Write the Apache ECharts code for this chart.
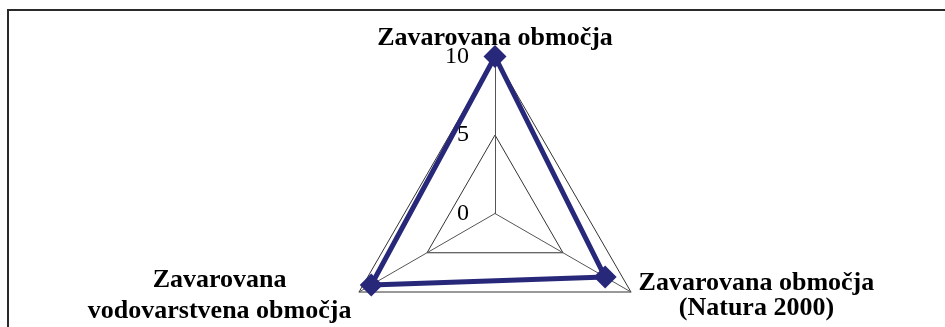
<!DOCTYPE html>
<html>
<head>
<meta charset="utf-8">
<script src="https://cdn.jsdelivr.net/npm/echarts@6/dist/echarts.min.js"></script>
<style>
  html, body { margin: 0; padding: 0; background: #fff; }
  #chart { width: 945px; height: 327px; }
</style>
</head>
<body>
<div id="chart"></div>
<script>
// indicator names (top, bottom-left, bottom-right)
var indicatorNames = [
    'Zavarovana območja',
    'Zavarovana\nvodovarstvena območja',
    'Zavarovana območja\n(Natura 2000)'
];
var indicatorMax = [10, 10, 10];
var seriesValues = [10, 9.1, 8.1];
var nameStyles = ['top', 'left', 'right'];

var chart = echarts.init(document.getElementById('chart'));

var indicators = [];
for (var i = 0; i < indicatorNames.length; i++) {
    var ind = { name: indicatorNames[i], min: 0, max: indicatorMax[i], nameMoveOverlap: false };
    if (i > 0) ind.axisLabel = { show: false };
    indicators.push(ind);
}

var nameFont = { fontFamily: 'Liberation Serif', fontWeight: 'bold', fontSize: 26, color: '#000', align: 'center' };

chart.setOption({
    animation: false,
    graphic: [{
        type: 'rect',
        shape: { x: 8, y: 10, width: 1200, height: 600 },
        style: { fill: null, stroke: '#2a2a2a', lineWidth: 2 },
        silent: true
    }],
    radar: {
        center: [495, 213.5],
        radius: 157,
        startAngle: 90,
        shape: 'polygon',
        splitNumber: 2,
        indicator: indicators,
        nameGap: 3,
        axisName: {
            color: '#000',
            fontFamily: 'Liberation Serif',
            fontWeight: 'bold',
            fontSize: 26,
            formatter: function (value) {
                var idx = indicatorNames.indexOf(value);
                return value.split('\n').map(function (line) {
                    return '{' + nameStyles[idx] + '|' + line + '}';
                }).join('\n');
            },
            rich: {
                top: Object.assign({ lineHeight: 26, padding: [0, 0, 4, 0] }, nameFont),
                left: Object.assign({ lineHeight: 31, padding: [4, 5, 0, 0] }, nameFont),
                right: Object.assign({ lineHeight: 25, padding: [4, 0, 0, 5] }, nameFont)
            }
        },
        axisLine: { lineStyle: { color: '#555', width: 1 } },
        splitLine: { lineStyle: { color: '#333', width: 1 } },
        splitArea: { show: false },
        axisTick: { show: false },
        axisLabel: {
            show: true,
            color: '#000',
            fontFamily: 'Liberation Serif',
            fontSize: 24,
            margin: 26
        }
    },
    series: [{
        type: 'radar',
        symbol: 'diamond',
        symbolSize: 23,
        itemStyle: { color: '#28287a' },
        lineStyle: { color: '#28287a', width: 5 },
        data: [{ value: seriesValues }]
    }]
});
</script>
</body>
</html>
